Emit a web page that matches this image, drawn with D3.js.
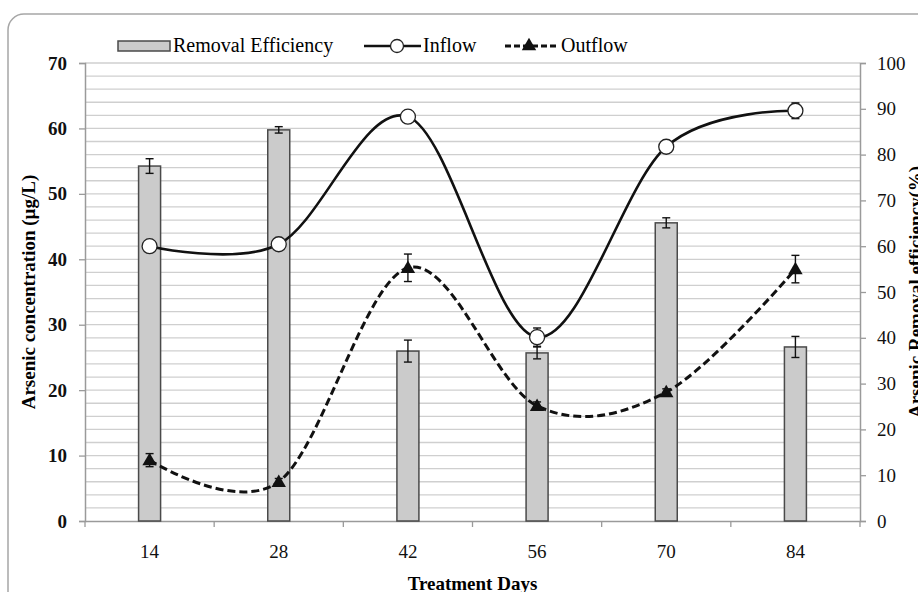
<!DOCTYPE html>
<html>
<head>
<meta charset="utf-8">
<script src="https://cdn.jsdelivr.net/npm/d3@7"></script>
<style>
  body { margin: 0; background: #fff; }
  svg { display: block; }
  svg text { font-family: "Liberation Serif", "Times New Roman", Times, "DejaVu Serif", serif; }
</style>
</head>
<body>
<svg width="918" height="592"></svg>
<script>
// data
var days = ["14", "28", "42", "56", "70", "84"];
var removal = [77.5, 85.4, 37.1, 36.7, 65.1, 38.0];
var removalErr = [1.6, 0.7, 2.4, 1.3, 1.1, 2.3];
var inflow = [42.0, 42.3, 61.8, 28.1, 57.2, 62.7];
var inflowErr = [0.3, 0.5, 0.4, 1.4, 0.8, 1.2];
var outflow = [9.3, 6.0, 38.7, 17.6, 19.7, 38.5];
var outflowErr = [1.0, 0.5, 2.1, 0.6, 0.5, 2.1];
var leftTicks = [0, 10, 20, 30, 40, 50, 60, 70];
var rightTicks = [0, 10, 20, 30, 40, 50, 60, 70, 80, 90, 100];

var svg = d3.select("svg");
var plotL = 85, plotR = 860, plotT = 63, plotB = 521;

// outer frame
svg.append("rect")
   .attr("x", 8).attr("y", 14)
   .attr("width", 940).attr("height", 600)
   .attr("rx", 16)
   .attr("fill", "none")
   .attr("stroke", "#a6a6a6")
   .attr("stroke-width", 1.5);

var x = d3.scaleBand().domain(days).range([plotL, plotR]);
var yL = d3.scaleLinear().domain([0, 70]).range([plotB, plotT]);
var yR = d3.scaleLinear().domain([0, 100]).range([plotB, plotT]);

// gridlines every 2 units
svg.append("g").selectAll("line")
   .data(d3.range(2, 71, 2))
   .enter().append("line")
   .attr("x1", plotL).attr("x2", plotR)
   .attr("y1", function(d) { return yL(d); })
   .attr("y2", function(d) { return yL(d); })
   .attr("stroke", "#cfcfcf")
   .attr("stroke-width", 1.3);

// axes
var axisColor = "#9a9a9a";
var gl = svg.append("g")
   .attr("transform", "translate(" + plotL + ",0)")
   .call(d3.axisLeft(yL).tickValues(leftTicks).tickSize(6).tickPadding(12));
gl.selectAll("text").attr("font-size", 19).attr("font-weight", "bold").attr("fill", "#111");

var gr = svg.append("g")
   .attr("transform", "translate(" + plotR + ",0)")
   .call(d3.axisRight(yR).tickValues(rightTicks).tickSize(6).tickPadding(11));
gr.selectAll("text").attr("font-size", 19).attr("fill", "#111");

var gb = svg.append("g")
   .attr("transform", "translate(0," + plotB + ")")
   .call(d3.axisBottom(x).tickSize(0).tickPadding(24));
gb.selectAll("text").attr("font-size", 19).attr("fill", "#111");
// ticks between categories
gb.selectAll(".sep")
  .data(d3.range(days.length + 1))
  .enter().append("line")
  .attr("class", "sep")
  .attr("x1", function(i) { return plotL + i * x.bandwidth(); })
  .attr("x2", function(i) { return plotL + i * x.bandwidth(); })
  .attr("y1", 0).attr("y2", 6);

[gl, gr, gb].forEach(function(g) {
  g.attr("font-family", null);
  g.selectAll("path.domain").attr("stroke", axisColor).attr("stroke-width", 1.5);
  g.selectAll("line").attr("stroke", axisColor).attr("stroke-width", 1.3);
});

// bars (right axis)
var barW = 22;
var cx = function(i) { return x(days[i]) + x.bandwidth() / 2; };
svg.append("g").selectAll("rect")
   .data(removal)
   .enter().append("rect")
   .attr("x", function(d, i) { return cx(i) - barW / 2; })
   .attr("y", function(d) { return yR(d); })
   .attr("width", barW)
   .attr("height", function(d) { return plotB - yR(d); })
   .attr("fill", "#cbcbcb")
   .attr("stroke", "#4a4a4a")
   .attr("stroke-width", 1.5);

function errorBars(vals, errs, scale) {
  var g = svg.append("g").attr("stroke", "#111").attr("stroke-width", 1.4);
  vals.forEach(function(v, i) {
    var y1 = scale(v + errs[i]), y2 = scale(v - errs[i]), c = cx(i);
    g.append("line").attr("x1", c).attr("x2", c).attr("y1", y1).attr("y2", y2);
    g.append("line").attr("x1", c - 4).attr("x2", c + 4).attr("y1", y1).attr("y2", y1);
    g.append("line").attr("x1", c - 4).attr("x2", c + 4).attr("y1", y2).attr("y2", y2);
  });
}
errorBars(removal, removalErr, yR);

// lines
var line = d3.line()
   .x(function(d, i) { return cx(i); })
   .y(function(d) { return yL(d); })
   .curve(d3.curveCardinal.tension(0));

svg.append("path")
   .datum(outflow)
   .attr("d", line)
   .attr("fill", "none")
   .attr("stroke", "#111")
   .attr("stroke-width", 3)
   .attr("stroke-dasharray", "8,4");

svg.append("path")
   .datum(inflow)
   .attr("d", line)
   .attr("fill", "none")
   .attr("stroke", "#111")
   .attr("stroke-width", 2.6);

errorBars(outflow, outflowErr, yL);
errorBars(inflow, inflowErr, yL);

var tri = d3.symbol().type(d3.symbolTriangle).size(90);
svg.append("g").selectAll("path")
   .data(outflow)
   .enter().append("path")
   .attr("d", tri)
   .attr("transform", function(d, i) { return "translate(" + cx(i) + "," + (yL(d) + 1) + ")"; })
   .attr("fill", "#111");

svg.append("g").selectAll("circle")
   .data(inflow)
   .enter().append("circle")
   .attr("cx", function(d, i) { return cx(i); })
   .attr("cy", function(d) { return yL(d); })
   .attr("r", 7.5)
   .attr("fill", "#fff")
   .attr("stroke", "#222")
   .attr("stroke-width", 1.3);

// axis titles
svg.append("text")
   .attr("transform", "translate(35," + ((plotT + plotB) / 2) + ") rotate(-90)")
   .attr("text-anchor", "middle")
   .attr("font-size", 19).attr("font-weight", "bold")
   .text("Arsenic concentration (µg/L)");

svg.append("text")
   .attr("transform", "translate(922," + ((plotT + plotB) / 2) + ") rotate(-90)")
   .attr("text-anchor", "middle")
   .attr("font-size", 19).attr("font-weight", "bold")
   .text("Arsenic Removal efficiency(%)");

svg.append("text")
   .attr("x", (plotL + plotR) / 2).attr("y", 590)
   .attr("text-anchor", "middle")
   .attr("font-size", 19).attr("font-weight", "bold")
   .text("Treatment Days");

// legend
var lg = svg.append("g").attr("font-size", 20);
lg.append("rect").attr("x", 118).attr("y", 41).attr("width", 52).attr("height", 10)
  .attr("fill", "#cbcbcb").attr("stroke", "#4a4a4a").attr("stroke-width", 1.5);
lg.append("text").attr("x", 173).attr("y", 52).text("Removal Efficiency");

lg.append("line").attr("x1", 364).attr("x2", 421).attr("y1", 46).attr("y2", 46)
  .attr("stroke", "#111").attr("stroke-width", 2.6);
lg.append("circle").attr("cx", 397).attr("cy", 46).attr("r", 6.5)
  .attr("fill", "#fff").attr("stroke", "#222").attr("stroke-width", 1.3);
lg.append("text").attr("x", 423).attr("y", 52).text("Inflow");

lg.append("line").attr("x1", 505).attr("x2", 559).attr("y1", 46).attr("y2", 46)
  .attr("stroke", "#111").attr("stroke-width", 3).attr("stroke-dasharray", "6,3");
lg.append("path").attr("d", tri).attr("transform", "translate(529,46)").attr("fill", "#111");
lg.append("text").attr("x", 561).attr("y", 52).text("Outflow");
</script>
</body>
</html>
